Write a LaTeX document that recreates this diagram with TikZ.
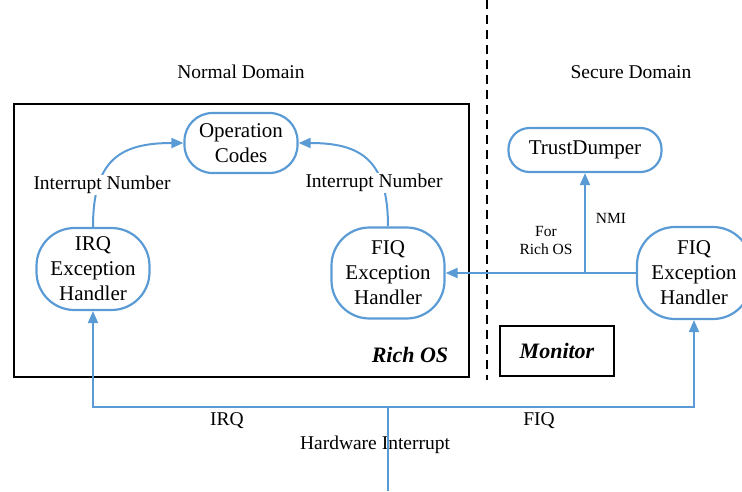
\documentclass[tikz,border=0pt]{standalone}
\usepackage{fontspec}
\setmainfont{Liberation Serif}
\usetikzlibrary{positioning,arrows.meta}
\definecolor{linkblue}{HTML}{5B9BD5}

\tikzset{
  handler/.style={draw=linkblue,line width=2.2pt,rounded corners=38pt,align=center,
    inner sep=0pt,font=\fontsize{21}{25}\selectfont},
  wire/.style={draw=linkblue,line width=2pt},
  link/.style={wire,-{Triangle[length=12pt,width=10pt]}},
  lbl/.style={font=\fontsize{19.5}{21}\selectfont,fill=white,inner sep=1pt},
  small/.style={font=\fontsize{15.5}{18}\selectfont,align=center},
}

\begin{document}
\begin{tikzpicture}[x=1pt,y=-1pt]
  \useasboundingbox (0,0) rectangle (742,491);

  % domains
  \draw[line width=1.5pt,dash pattern=on 9pt off 6pt] (487,0) -- (487,380);
  \node[lbl] (normal) at (241,72) {Normal Domain};
  \node[lbl] (secure) at (631,72) {Secure Domain};
  \draw[line width=2.4pt] (14,104) rectangle (469,377);

  % handlers
  \node[handler,minimum width=113pt,minimum height=60pt,rounded corners=28pt] (ops) at (241,143) {Operation\\Codes};
  \node[handler,minimum width=113pt,minimum height=82pt] (irq) at (93,269) {IRQ\\Exception\\Handler};
  \node[handler,minimum width=113pt,minimum height=91pt] (fiqn) at (388,273) {FIQ\\Exception\\Handler};
  \node[handler,minimum width=153pt,minimum height=44pt,rounded corners=21pt] (dumper) at (585,150) {TrustDumper};
  \node[handler,minimum width=114pt,minimum height=92pt] (fiqs) at (694,273) {FIQ\\Exception\\Handler};

  \node[font=\fontsize{22}{24}\selectfont\bfseries\itshape] (richos) at (410,355) {Rich OS};
  \node[draw,line width=2.4pt,minimum width=114pt,minimum height=50pt,
    font=\fontsize{22}{24}\selectfont\bfseries\itshape] (monitor) at (557,351) {Monitor};

  % interrupt numbers
  \draw[link] (irq.north) .. controls (93,160) and (120,143) .. (ops.west);
  \draw[link] (fiqn.north) .. controls (388,160) and (361,143) .. (ops.east);
  \node[lbl] (lnum) at (102,185) {Interrupt Number};
  \node[lbl] (rnum) at (374,183) {Interrupt Number};

  % secure side
  \coordinate (split) at (dumper.south |- fiqs.west);
  \draw[link] (fiqs.west) -- (fiqn.east);
  \draw[link] (split) -- (dumper.south);
  \node[small] (nmi) at (611,218) {NMI};
  \node[small] (forrich) at (546,240) {For\\Rich OS};

  % hardware interrupt
  \coordinate (hw) at (388,491);
  \coordinate (bus) at (388,407);
  \node[lbl,fill=none] (irqlbl) at (227,421) {IRQ};
  \node[lbl,fill=none] (fiqlbl) at (539,421) {FIQ};
  \node[lbl,fill=none] (hwlbl) at (375,445) {Hardware Interrupt};
  \draw[wire] (hw) -- (bus);
  \draw[link] (bus) -| (irq.south);
  \draw[link] (bus) -| (fiqs.south);
\end{tikzpicture}
\end{document}
